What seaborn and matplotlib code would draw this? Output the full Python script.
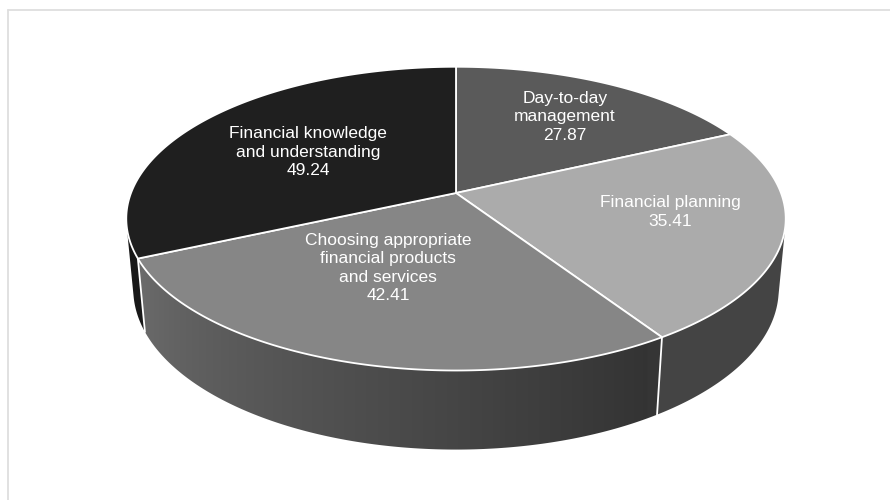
import numpy as np
import matplotlib
matplotlib.use("Agg")
import matplotlib.pyplot as plt
from matplotlib.patches import Polygon
from matplotlib.lines import Line2D
from matplotlib.colors import to_rgb
import seaborn as sns

# Slices listed clockwise from twelve o'clock
categories = [
    "Day-to-day\nmanagement",
    "Financial planning",
    "Choosing appropriate\nfinancial products\nand services",
    "Financial knowledge\nand understanding",
]
values = [27.87, 35.41, 42.41, 49.24]

top_colors = ["#5a5a5a", "#ababab", "#868686", "#1f1f1f"]
label_xy = [(565, 117), (670, 212), (388, 268), (308, 152)]

sns.set_theme(style="white")
plt.rcParams["font.family"] = ["Liberation Sans", "DejaVu Sans"]

# Perspective camera looking down on a unit-radius disc
ELEV = np.deg2rad(27.0)
DIST = 5.28
SCALE = 1716.0
CX, CY = 456.0, 193.0
THICK = 0.2457


def project(x, y, z):
    s, c = np.sin(ELEV), np.cos(ELEV)
    vy = y + DIST * c
    vz = z - DIST * s
    depth = vy * c - vz * s
    up = vy * s + vz * c
    return CX + SCALE * x / depth, CY - SCALE * up / depth


def rim(theta_deg, z):
    t = np.deg2rad(theta_deg)
    return project(np.cos(t), np.sin(t), z)


def shade(theta_deg):
    t = np.mod(theta_deg, 360.0)
    f = 0.385 + (0.80 - 0.385) * np.clip((300.0 - t) / 95.0, 0.0, 1.0)
    return np.where(t > 300, np.maximum(f, 0.40), f)


total = float(np.sum(values))
bounds = 90.0 - np.concatenate([[0.0], np.cumsum(values)]) / total * 360.0

fig = plt.figure(figsize=(8.9, 5.0), dpi=100)
ax = fig.add_axes([0, 0, 1, 1])
ax.set_xlim(0, 890)
ax.set_ylim(500, 0)
ax.axis("off")

# visible part of the cylinder wall
edge = np.rad2deg(np.arcsin(1.0 / (DIST * np.cos(ELEV))))
vis_lo, vis_hi = -180.0 + edge, -edge

for i in range(len(values)):
    a0, a1 = bounds[i], bounds[i + 1]
    lo, hi = max(a1, vis_lo), min(a0, vis_hi)
    if hi <= lo:
        continue
    ts = np.linspace(lo, hi, 400)
    top = np.array([rim(t, 0) for t in ts])
    bot = np.array([rim(t, -THICK) for t in ts])
    wall = np.vstack([top, bot[::-1]])
    patch = Polygon(wall, closed=True, facecolor="none", edgecolor="none", zorder=1)
    ax.add_patch(patch)

    # horizontal shading: each pixel column takes the tone of the wall angle below it
    x0, x1 = wall[:, 0].min() - 1, wall[:, 0].max() + 1
    y0, y1 = wall[:, 1].min() - 1, wall[:, 1].max() + 1
    xs = np.linspace(x0, x1, 600)
    order = np.argsort(top[:, 0])
    theta_at_x = np.interp(xs, top[order, 0], ts[order])
    base = np.array(to_rgb(top_colors[i]))
    grad = np.clip(base[None, :] * shade(theta_at_x)[:, None], 0, 1)
    im = ax.imshow(grad[None, :, :], extent=[x0, x1, y1, y0], aspect="auto",
                   interpolation="bilinear", zorder=1)
    im.set_clip_path(patch)

# white seams where slice boundaries meet the wall
for b in bounds:
    if vis_lo < b < vis_hi:
        xt, yt = rim(b, 0)
        xb, yb = rim(b, -THICK)
        ax.add_line(Line2D([xt, xb], [yt, yb], color="white", lw=1.3, zorder=2))

# top faces
for i in range(len(values)):
    a0, a1 = bounds[i], bounds[i + 1]
    ts = np.linspace(a0, a1, 200)
    pts = [project(0, 0, 0)] + [rim(t, 0) for t in ts]
    ax.add_patch(Polygon(pts, closed=True, facecolor=top_colors[i],
                         edgecolor="white", lw=1.3, joinstyle="round", zorder=3))

for name, val, (lx, ly) in zip(categories, values, label_xy):
    ax.text(lx, ly, f"{name}\n{val:.2f}", color="white", fontsize=12.5,
            ha="center", va="center", linespacing=1.27, zorder=4)

ax.set_xlim(0, 890)
ax.set_ylim(500, 0)

# light frame along the top and left edges
fig.add_artist(Line2D([8 / 890, 1.0], [1 - 10 / 500, 1 - 10 / 500],
                      transform=fig.transFigure, color="#dedede", lw=1.3))
fig.add_artist(Line2D([8 / 890, 8 / 890], [0.0, 1 - 10 / 500],
                      transform=fig.transFigure, color="#dedede", lw=1.3))

fig.savefig("out.png", dpi=100, facecolor="white")
